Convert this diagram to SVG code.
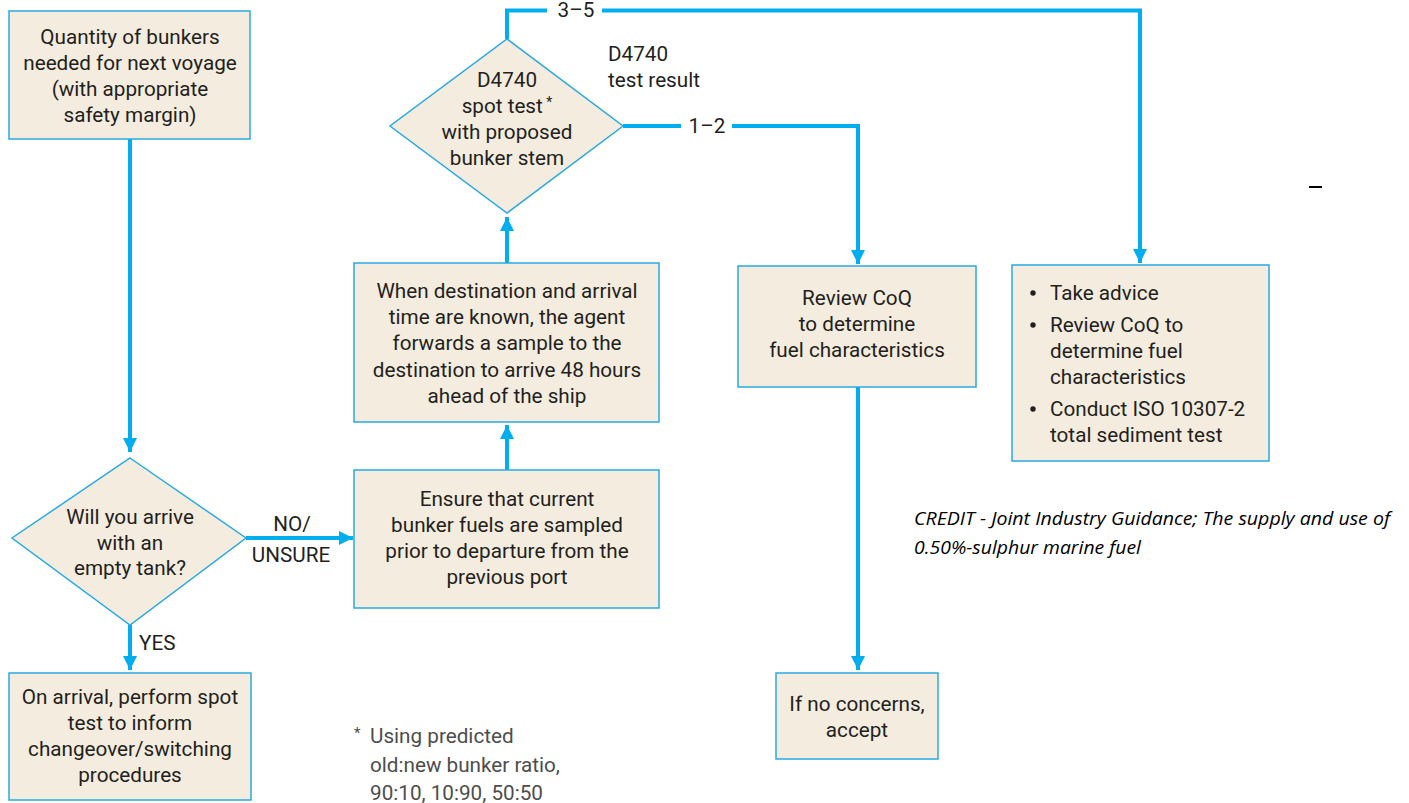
<svg xmlns="http://www.w3.org/2000/svg" width="1409" height="803" viewBox="0 0 1409 803">
<style>
.box{fill:#F4ECDF;stroke:#29ABE2;stroke-width:1.5}
.t{font-family:Roboto,"Liberation Sans",sans-serif;font-size:20.7px;fill:#231F20;text-anchor:middle}
.tl{font-family:Roboto,"Liberation Sans",sans-serif;font-size:20.7px;fill:#231F20}
.c{fill:none;stroke:#00AEEF;stroke-width:4}
.fn{font-family:Roboto,"Liberation Sans",sans-serif;font-size:20.7px;fill:#4D4D4D}
.cr{font-family:"Open Sans","Liberation Sans",sans-serif;font-size:19px;font-style:italic;fill:#000}
</style>
<defs>
<marker id="ah" viewBox="0 0 10 10" refX="10" refY="5" markerWidth="3.6" markerHeight="3.6" orient="auto" markerUnits="strokeWidth">
<path d="M0,0 L10,5 L0,10 Z" fill="#00AEEF"/>
</marker>
</defs>
<rect width="1409" height="803" fill="#fff"/>

<g id="connectors">
<path class="c" d="M130,139 V452" marker-end="url(#ah)"/>
<path class="c" d="M246,538 H353" marker-end="url(#ah)"/>
<path class="c" d="M130,625 V670" marker-end="url(#ah)"/>
<path class="c" d="M507,470 V425" marker-end="url(#ah)"/>
<path class="c" d="M507,263 V217" marker-end="url(#ah)"/>
<path class="c" d="M507,39 V10.5 H547"/>
<path class="c" d="M602,10.5 H1140 V263" marker-end="url(#ah)"/>
<path class="c" d="M623,126 H681"/>
<path class="c" d="M732,126 H858 V264" marker-end="url(#ah)"/>
<path class="c" d="M858,387 V670" marker-end="url(#ah)"/>
<text class="t" x="576" y="17">3–5</text>
<text class="t" x="707" y="133">1–2</text>
<text class="tl" x="608" y="61">D4740</text>
<text class="tl" x="608" y="87">test result</text>
<text class="t" x="292" y="531">NO/</text>
<text class="t" x="291" y="562">UNSURE</text>
<text class="tl" x="139" y="650">YES</text>
</g>

<g id="n-quantity">
<rect class="box" x="9" y="11" width="241" height="128"/>
<text class="t" x="130" y="44">Quantity of bunkers</text>
<text class="t" x="130" y="70">needed for next voyage</text>
<text class="t" x="130" y="96">(with appropriate</text>
<text class="t" x="130" y="122">safety margin)</text>
</g>

<g id="n-empty">
<polygon class="box" points="130,458 246,538 130,625 12,538"/>
<text class="t" x="130" y="524">Will you arrive</text>
<text class="t" x="130" y="550">with an</text>
<text class="t" x="130" y="575">empty tank?</text>
</g>

<g id="n-arrival">
<rect class="box" x="9" y="673" width="242" height="127"/>
<text class="t" x="130" y="704">On arrival, perform spot</text>
<text class="t" x="130" y="730">test to inform</text>
<text class="t" x="130" y="756">changeover/switching</text>
<text class="t" x="130" y="782">procedures</text>
</g>

<g id="n-ensure">
<rect class="box" x="354" y="470" width="305" height="138"/>
<text class="t" x="507" y="506">Ensure that current</text>
<text class="t" x="507" y="532">bunker fuels are sampled</text>
<text class="t" x="507" y="558">prior to departure from the</text>
<text class="t" x="507" y="584">previous port</text>
</g>

<g id="n-forward">
<rect class="box" x="354" y="263" width="305" height="159"/>
<text class="t" x="507" y="298">When destination and arrival</text>
<text class="t" x="507" y="324">time are known, the agent</text>
<text class="t" x="507" y="350">forwards a sample to the</text>
<text class="t" x="507" y="377">destination to arrive 48 hours</text>
<text class="t" x="507" y="403">ahead of the ship</text>
</g>

<g id="n-spot">
<polygon class="box" points="507,39 623,126 507,213 390,126"/>
<text class="t" x="507" y="87">D4740</text>
<text class="t" x="507" y="113">spot test<tspan font-size="14" dy="-6"> *</tspan></text>
<text class="t" x="507" y="139">with proposed</text>
<text class="t" x="507" y="165">bunker stem</text>
</g>

<g id="n-review">
<rect class="box" x="738" y="266" width="238" height="121"/>
<text class="t" x="857" y="305">Review CoQ</text>
<text class="t" x="857" y="331">to determine</text>
<text class="t" x="857" y="357">fuel characteristics</text>
</g>

<g id="n-accept">
<rect class="box" x="776" y="673" width="162" height="86"/>
<text class="t" x="857" y="711">If no concerns,</text>
<text class="t" x="857" y="737">accept</text>
</g>

<g id="n-advice">
<rect class="box" x="1012" y="265" width="257" height="196"/>
<circle cx="1033" cy="293" r="2.7" fill="#231F20"/>
<circle cx="1033" cy="325" r="2.7" fill="#231F20"/>
<circle cx="1033" cy="409" r="2.7" fill="#231F20"/>
<text class="tl" x="1050" y="300">Take advice</text>
<text class="tl" x="1050" y="332">Review CoQ to</text>
<text class="tl" x="1050" y="358">determine fuel</text>
<text class="tl" x="1050" y="384">characteristics</text>
<text class="tl" x="1050" y="416">Conduct ISO 10307-2</text>
<text class="tl" x="1050" y="442">total sediment test</text>
</g>

<g id="footnote">
<text class="fn" x="354" y="743"><tspan font-size="15" dy="-5">*</tspan><tspan x="370" dy="5">Using predicted</tspan></text>
<text class="fn" x="370" y="772">old:new bunker ratio,</text>
<text class="fn" x="370" y="800">90:10, 10:90, 50:50</text>
</g>

<g id="credit">
<text class="cr" x="914" y="525" textLength="476" lengthAdjust="spacingAndGlyphs">CREDIT - Joint Industry Guidance; The supply and use of</text>
<text class="cr" x="914" y="554" textLength="227" lengthAdjust="spacingAndGlyphs">0.50%-sulphur marine fuel</text>
</g>

<line x1="1309" y1="187" x2="1322" y2="187" stroke="#000" stroke-width="2"/>
</svg>
